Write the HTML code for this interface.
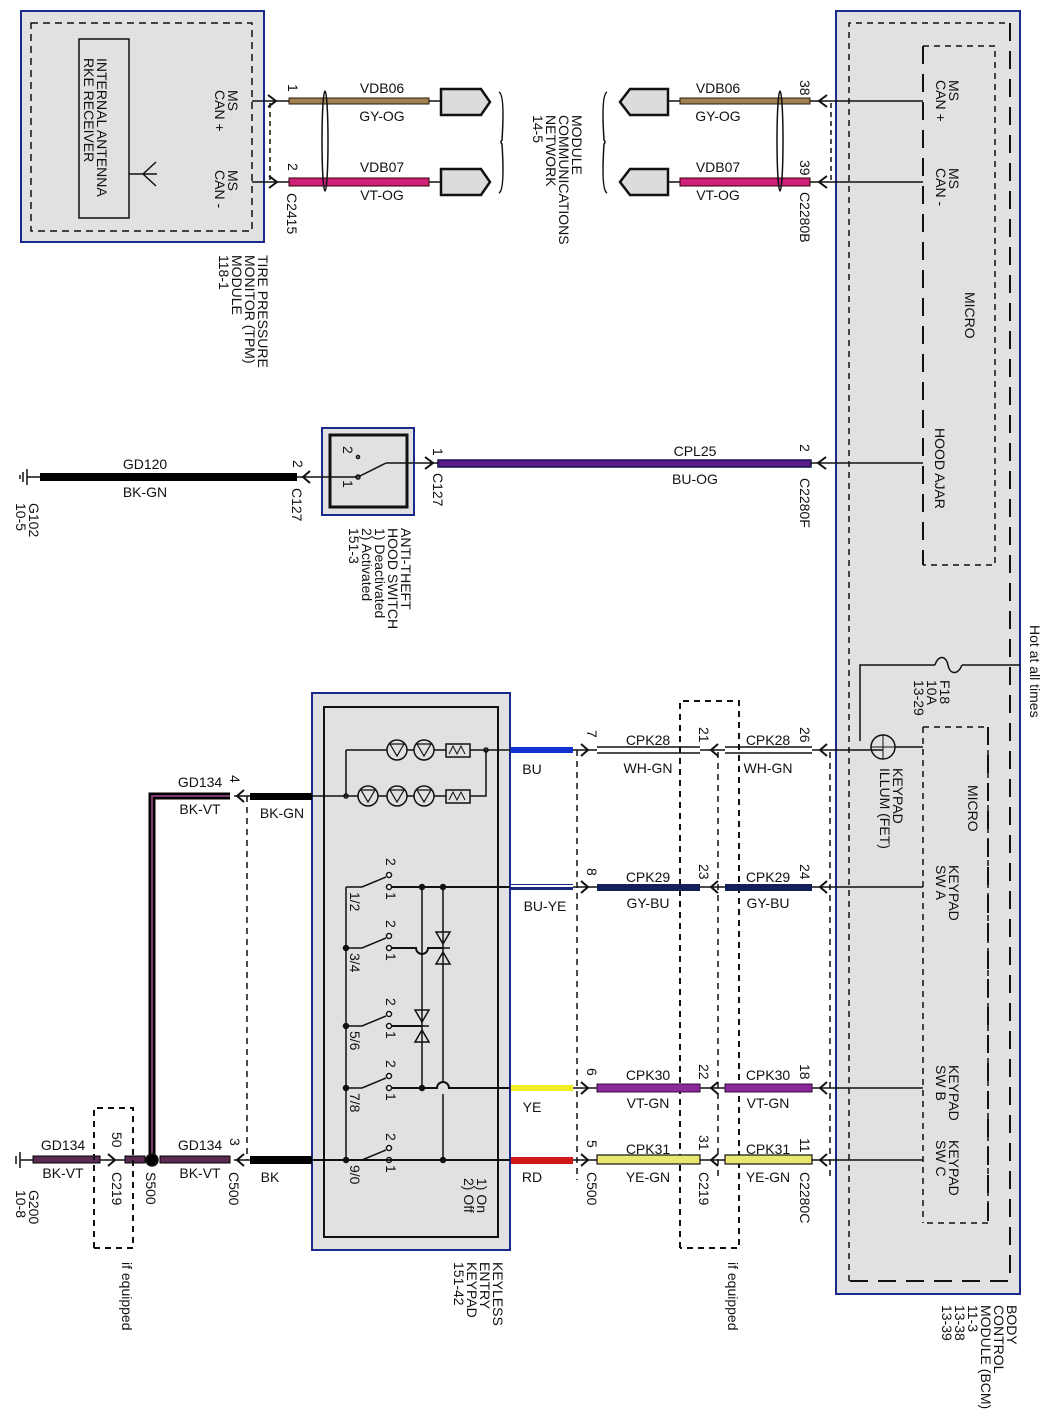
<!DOCTYPE html>
<html><head><meta charset="utf-8"><style>
html,body{margin:0;padding:0;background:#fff}
svg{display:block}
text{font-family:"Liberation Sans",Arial,sans-serif;font-size:14px;fill:#111}
.c{text-anchor:middle}
</style></head><body>
<svg width="1052" height="1422" viewBox="0 0 1052 1422" xmlns="http://www.w3.org/2000/svg">
<g fill="none" stroke="#111" stroke-width="1.5">
<rect x="21" y="11" width="243" height="231" fill="#e1e1e3" stroke="#1b2a8c" stroke-width="2"/>
<rect x="31" y="23" width="221" height="208" stroke-dasharray="7,5"/>
<rect x="79" y="39" width="50" height="179"/>
<path d="M129 174 H143 M143 174 L156 162 M143 174 L156 186 M143 174 H157"/>
<path d="M252 101 H289 M252 182 H289"/>
<path d="M270 103 V182" stroke-dasharray="5,4"/>
<path d="M268 95 L276 101 L268 107 M269 176 L277 182 L269 188" stroke-width="2"/>
<rect x="289" y="98" width="140" height="6" fill="#a0804f" stroke="#2a1a0a" stroke-width="1"/>
<rect x="289" y="178" width="140" height="8" fill="#d0207a" stroke="#300" stroke-width="1"/>
<path d="M429 101 H441 M429 182 H441"/>
<ellipse cx="325" cy="141" rx="3" ry="50"/>
<path d="M441 89 H481 L490 102 L481 115 H441 Z M441 169 H481 L490 182 L481 195 H441 Z" fill="#dcdcdc" stroke-width="2.5"/>
<path d="M499 92 Q505 95 502 140 Q500 142 502 144 Q505 190 499 193"/>
<path d="M620 102 L630 89 H668 V115 H630 Z M620 182 L630 169 H668 V195 H630 Z" fill="#dcdcdc" stroke-width="2.5"/>
<path d="M607 92 Q601 95 604 140 Q606 142 604 144 Q601 190 607 193"/>
<path d="M668 101 H680 M668 182 H680"/>
<rect x="680" y="98" width="130" height="6" fill="#a0804f" stroke="#2a1a0a" stroke-width="1"/>
<rect x="680" y="178" width="130" height="8" fill="#d0207a" stroke="#300" stroke-width="1"/>
<ellipse cx="780" cy="141" rx="3" ry="50"/>
<rect x="836" y="11" width="184" height="1283" fill="#e1e1e3" stroke="#1b2a8c" stroke-width="2"/>
<path d="M849 1281 V23 H1010" stroke-dasharray="6,5"/>
<path d="M1010 23 V1281 H849" stroke-dasharray="18,10" stroke-width="2"/>
<path d="M923 46 H995 V565 H923" stroke-dasharray="6,5"/>
<path d="M923 46 V565" stroke-dasharray="18,10" stroke-width="2"/>
<path d="M810 101 H923 M810 182 H923"/>
<path d="M831 103 V182" stroke-dasharray="5,4"/>
<path d="M827 95 L819 101 L827 107 M827 176 L819 182 L827 188" stroke-width="2"/>
<rect x="438" y="460" width="373" height="7" fill="#5a1a8a" stroke="#141450" stroke-width="1.5"/>
<path d="M811 463 H923 M412 463 H438"/>
<path d="M826 457 L818 463 L826 469 M425 457 L433 463 L425 469" stroke-width="2"/>
<rect x="322" y="428" width="92" height="87" fill="#e1e1e3" stroke="#1b2a8c" stroke-width="2"/>
<rect x="330" y="435" width="77" height="72" stroke-width="3"/>
<path d="M386 463 H414 M358 477 L386 463 M297 477 H358" />
<circle cx="358" cy="477" r="2"/><circle cx="358" cy="457" r="1.5"/>
<path d="M310 471 L303 477 L310 483" stroke-width="2"/>
<rect x="40" y="473" width="257" height="8" fill="#000" stroke="none"/>
<path d="M27 477 H40 M27 469 V485 M23 472 V482 M20 475 V479"/>
<path d="M1020 665 H962 M935 665 H860 V741"/>
<path d="M935 665 C938 655 946 655 948 665 C950 675 958 675 962 665"/>
<circle cx="883" cy="747" r="12"/>
<path d="M871 747 H895 M883 735 V759" stroke-width="1"/>
<path d="M923 747 H895"/>
<path d="M923 727 H988 V1223 H923" stroke-dasharray="6,5"/>
<path d="M923 727 V1223" stroke-dasharray="6,5"/>
<path d="M988 727 V1223" stroke-dasharray="18,10" stroke-width="2"/>
<rect x="312" y="693" width="198" height="557" fill="#e1e1e3" stroke="#1b2a8c" stroke-width="2"/>
<rect x="324" y="707" width="174" height="530" stroke-width="2"/>
<path d="M346 750 H446 M470 750 H510 M486 750 V796 H470 M446 796 H346 M346 750 V796 M312 796 H346"/>
<rect x="446" y="744" width="24" height="13"/><rect x="446" y="790" width="24" height="13"/>
<path d="M449 754 L453 746 L457 754 L461 746 L465 754 M449 800 L453 792 L457 800 L461 792 L465 800" stroke-width="1"/>
<circle cx="397" cy="750" r="10" fill="#e1e1e3"/><circle cx="424" cy="750" r="10" fill="#e1e1e3"/>
<circle cx="368" cy="796" r="10" fill="#e1e1e3"/><circle cx="397" cy="796" r="10" fill="#e1e1e3"/><circle cx="424" cy="796" r="10" fill="#e1e1e3"/>
<path d="M390 744 H404 L397 756 Z M417 744 H431 L424 756 Z M361 790 H375 L368 802 Z M390 790 H404 L397 802 Z M417 790 H431 L424 802 Z" stroke-width="1.2"/>
<circle cx="486" cy="750" r="2"/><circle cx="346" cy="796" r="2"/>
<path d="M346 887 V1160"/>
<path d="M346 887 H362 L386 877 M346 948 H362 L386 938 M346 1026 H362 L386 1016 M346 1088 H362 L386 1078 M346 1160 H362 L386 1150"/>
<g fill="#fff"><circle cx="389" cy="875" r="2.5"/><circle cx="389" cy="887" r="2.5"/><circle cx="389" cy="936" r="2.5"/><circle cx="389" cy="948" r="2.5"/><circle cx="389" cy="1014" r="2.5"/><circle cx="389" cy="1026" r="2.5"/><circle cx="389" cy="1076" r="2.5"/><circle cx="389" cy="1088" r="2.5"/><circle cx="389" cy="1148" r="2.5"/><circle cx="389" cy="1160" r="2.5"/></g>
<path d="M392 887 H510 M392 948 H416 A6 6 0 0 0 428 948 H443 M392 1026 H422 M392 1088 H437 A6 6 0 0 1 449 1088 H510" stroke-width="2"/>
<path d="M422 887 V1088 M443 887 V1082 M443 1094 V1160"/>
<path d="M312 1160 H510" stroke-width="2"/>
<path d="M436 932 H450 L443 944 Z M436 964 H450 L443 952 Z M436 948 H450 M415 1010 H429 L422 1022 Z M415 1042 H429 L422 1030 Z M415 1026 H429" stroke-width="1.5"/>
<g fill="#111"><circle cx="346" cy="948" r="2.5"/><circle cx="346" cy="1026" r="2.5"/><circle cx="346" cy="1088" r="2.5"/><circle cx="346" cy="1160" r="2.5"/><circle cx="422" cy="887" r="2.5"/><circle cx="443" cy="887" r="2.5"/><circle cx="422" cy="1088" r="2.5"/><circle cx="443" cy="1160" r="2.5"/></g>
<rect x="511" y="747" width="62" height="6" fill="#1030d0" stroke="none"/>
<rect x="511" y="884" width="62" height="6" fill="#1a2a80" stroke="none"/>
<rect x="511" y="885" width="62" height="2" fill="#fff" stroke="none"/>
<rect x="511" y="1085" width="62" height="6" fill="#f0f020" stroke="none"/>
<rect x="511" y="1157" width="62" height="7" fill="#d01818" stroke="none"/>
<path d="M573 750 H597 M573 887 H597 M573 1088 H597 M573 1160 H597 M700 750 H725 M700 887 H725 M700 1088 H725 M700 1160 H725 M812 750 H883 M812 887 H923 M812 1088 H923 M812 1160 H923"/>
<path d="M577 750 V1180" stroke-dasharray="6,5"/>
<path d="M718 752 V1180" stroke-dasharray="6,5"/>
<path d="M830 752 V1180" stroke-dasharray="6,5"/>
<path d="M680 1248 V701 H739 V1248 H680" stroke-dasharray="6,5" stroke-width="2"/>
<g stroke-width="2">
<path d="M581 744 L588 750 L581 756 M581 881 L588 887 L581 893 M581 1082 L588 1088 L581 1094 M581 1154 L588 1160 L581 1166"/>
<path d="M718 744 L711 750 L718 756 M718 881 L711 887 L718 893 M718 1082 L711 1088 L718 1094 M718 1154 L711 1160 L718 1166"/>
<path d="M827 744 L820 750 L827 756 M827 881 L820 887 L827 893 M827 1082 L820 1088 L827 1094 M827 1154 L820 1160 L827 1166"/>
</g>
<path d="M597 747 H700 M597 753 H700 M725 747 H812 M725 753 H812" stroke-width="1.5"/>
<rect x="597" y="884" width="103" height="7" fill="#14205a" stroke="none"/>
<rect x="725" y="884" width="87" height="7" fill="#14205a" stroke="none"/>
<rect x="597" y="1084" width="103" height="8" fill="#8a2a9a" stroke="#3a0a40" stroke-width="1"/>
<rect x="725" y="1084" width="87" height="8" fill="#8a2a9a" stroke="#3a0a40" stroke-width="1"/>
<rect x="597" y="1155" width="103" height="9" fill="#e8e870" stroke="#111" stroke-width="1.2"/>
<rect x="725" y="1155" width="87" height="9" fill="#e8e870" stroke="#111" stroke-width="1.2"/>
<rect x="250" y="793" width="62" height="7" fill="#000" stroke="none"/>
<rect x="250" y="1156" width="62" height="8" fill="#000" stroke="none"/>
<path d="M234 796 H250 M234 1160 H250"/>
<path d="M247 796 V1160" stroke-dasharray="6,5"/>
<path d="M244 790 L237 796 L244 802 M244 1154 L237 1160 L244 1166" stroke-width="2"/>
<path d="M230 796 H152 V1156" stroke="#000" stroke-width="7"/>
<path d="M230 796 H152 V1156" stroke="#7a3a70" stroke-width="2"/>
<rect x="160" y="1156" width="70" height="7" fill="#5a2a50" stroke="#000" stroke-width="1"/>
<rect x="125" y="1156" width="20" height="7" fill="#5a2a50" stroke="#000" stroke-width="1"/>
<rect x="33" y="1156" width="67" height="7" fill="#5a2a50" stroke="#000" stroke-width="1"/>
<path d="M100 1160 H125"/>
<path d="M108 1154 L115 1160 L108 1166" stroke-width="2"/>
<circle cx="152" cy="1160" r="6" fill="#000"/>
<path d="M94 1248 V1108 H133 V1248 H94" stroke-dasharray="6,5" stroke-width="2"/>
<path d="M20 1160 H33 M20 1152 V1168 M16 1156 V1164"/>
</g>
<g class="c">
<text x="382" y="93" class="c">VDB06</text><text x="382" y="121" class="c">GY-OG</text>
<text x="382" y="172" class="c">VDB07</text><text x="382" y="200" class="c">VT-OG</text>
<text x="718" y="93" class="c">VDB06</text><text x="718" y="121" class="c">GY-OG</text>
<text x="718" y="172" class="c">VDB07</text><text x="718" y="200" class="c">VT-OG</text>
<text x="695" y="456" class="c">CPL25</text><text x="695" y="484" class="c">BU-OG</text>
<text x="145" y="469" class="c">GD120</text><text x="145" y="497" class="c">BK-GN</text>
<text x="648" y="745" class="c">CPK28</text><text x="648" y="773" class="c">WH-GN</text>
<text x="768" y="745" class="c">CPK28</text><text x="768" y="773" class="c">WH-GN</text>
<text x="648" y="882" class="c">CPK29</text><text x="648" y="908" class="c">GY-BU</text>
<text x="768" y="882" class="c">CPK29</text><text x="768" y="908" class="c">GY-BU</text>
<text x="648" y="1080" class="c">CPK30</text><text x="648" y="1108" class="c">VT-GN</text>
<text x="768" y="1080" class="c">CPK30</text><text x="768" y="1108" class="c">VT-GN</text>
<text x="648" y="1154" class="c">CPK31</text><text x="648" y="1182" class="c">YE-GN</text>
<text x="768" y="1154" class="c">CPK31</text><text x="768" y="1182" class="c">YE-GN</text>
<text x="532" y="774" class="c">BU</text><text x="545" y="911" class="c">BU-YE</text>
<text x="532" y="1112" class="c">YE</text><text x="532" y="1182" class="c">RD</text>
<text x="282" y="818" class="c">BK-GN</text><text x="270" y="1182" class="c">BK</text>
<text x="200" y="787" class="c">GD134</text><text x="200" y="814" class="c">BK-VT</text>
<text x="200" y="1150" class="c">GD134</text><text x="200" y="1178" class="c">BK-VT</text>
<text x="63" y="1150" class="c">GD134</text><text x="63" y="1178" class="c">BK-VT</text>
</g>
<g>
<text transform="translate(97 58) rotate(90)">INTERNAL ANTENNA</text>
<text transform="translate(84 58) rotate(90)">RKE RECEIVER</text>
<text transform="translate(228 90) rotate(90)">MS</text><text transform="translate(215 90) rotate(90)">CAN +</text>
<text transform="translate(228 170) rotate(90)">MS</text><text transform="translate(215 170) rotate(90)">CAN -</text>
<text transform="translate(288 84) rotate(90)">1</text><text transform="translate(288 163) rotate(90)">2</text>
<text transform="translate(287 193) rotate(90)">C2415</text>
<text transform="translate(572 115) rotate(90)">MODULE</text>
<text transform="translate(559 115) rotate(90)">COMMUNICATIONS</text>
<text transform="translate(546 115) rotate(90)">NETWORK</text>
<text transform="translate(533 115) rotate(90)">14-5</text>
<text transform="translate(258 255) rotate(90)">TIRE PRESSURE</text>
<text transform="translate(245 255) rotate(90)">MONITOR (TPM)</text>
<text transform="translate(232 255) rotate(90)">MODULE</text>
<text transform="translate(219 255) rotate(90)">118-1</text>
<text transform="translate(800 80) rotate(90)">38</text><text transform="translate(800 160) rotate(90)">39</text>
<text transform="translate(800 192) rotate(90)">C2280B</text>
<text transform="translate(949 80) rotate(90)">MS</text><text transform="translate(936 80) rotate(90)">CAN +</text>
<text transform="translate(949 168) rotate(90)">MS</text><text transform="translate(936 168) rotate(90)">CAN -</text>
<text transform="translate(965 292) rotate(90)">MICRO</text>
<text transform="translate(935 428) rotate(90)">HOOD AJAR</text>
<text transform="translate(800 444) rotate(90)">2</text>
<text transform="translate(800 478) rotate(90)">C2280F</text>
<text transform="translate(433 448) rotate(90)">1</text>
<text transform="translate(433 473) rotate(90)">C127</text>
<text transform="translate(293 460) rotate(90)">2</text>
<text transform="translate(292 488) rotate(90)">C127</text>
<text transform="translate(343 446) rotate(90)">2</text><text transform="translate(343 480) rotate(90)">1</text>
<text transform="translate(401 528) rotate(90)">ANTI-THEFT</text>
<text transform="translate(388 528) rotate(90)">HOOD SWITCH</text>
<text transform="translate(375 528) rotate(90)">1) Deactivated</text>
<text transform="translate(362 528) rotate(90)">2) Activated</text>
<text transform="translate(349 528) rotate(90)">151-3</text>
<text transform="translate(29 503) rotate(90)">G102</text><text transform="translate(16 503) rotate(90)">10-5</text>
<text transform="translate(1030 625) rotate(90)">Hot at all times</text>
<text transform="translate(940 680) rotate(90)">F18</text>
<text transform="translate(927 680) rotate(90)">10A</text>
<text transform="translate(914 680) rotate(90)">13-29</text>
<text transform="translate(893 768) rotate(90)">KEYPAD</text>
<text transform="translate(880 768) rotate(90)">ILLUM (FET)</text>
<text transform="translate(968 785) rotate(90)">MICRO</text>
<text transform="translate(949 865) rotate(90)">KEYPAD</text><text transform="translate(936 865) rotate(90)">SW A</text>
<text transform="translate(949 1065) rotate(90)">KEYPAD</text><text transform="translate(936 1065) rotate(90)">SW B</text>
<text transform="translate(949 1140) rotate(90)">KEYPAD</text><text transform="translate(936 1140) rotate(90)">SW C</text>
<text transform="translate(1007 1305) rotate(90)">BODY</text>
<text transform="translate(994 1305) rotate(90)">CONTROL</text>
<text transform="translate(981 1305) rotate(90)">MODULE (BCM)</text>
<text transform="translate(968 1305) rotate(90)">11-3</text>
<text transform="translate(955 1305) rotate(90)">13-38</text>
<text transform="translate(942 1305) rotate(90)">13-39</text>
<text transform="translate(587 730) rotate(90)">7</text><text transform="translate(587 868) rotate(90)">8</text>
<text transform="translate(587 1068) rotate(90)">6</text><text transform="translate(587 1140) rotate(90)">5</text>
<text transform="translate(699 727) rotate(90)">21</text><text transform="translate(699 864) rotate(90)">23</text>
<text transform="translate(699 1064) rotate(90)">22</text><text transform="translate(699 1135) rotate(90)">31</text>
<text transform="translate(800 727) rotate(90)">26</text><text transform="translate(800 864) rotate(90)">24</text>
<text transform="translate(800 1064) rotate(90)">18</text><text transform="translate(800 1138) rotate(90)">11</text>
<text transform="translate(587 1172) rotate(90)">C500</text>
<text transform="translate(699 1172) rotate(90)">C219</text>
<text transform="translate(800 1172) rotate(90)">C2280C</text>
<text transform="translate(728 1262) rotate(90)">if equipped</text>
<text transform="translate(122 1262) rotate(90)">if equipped</text>
<text transform="translate(493 1262) rotate(90)">KEYLESS</text>
<text transform="translate(480 1262) rotate(90)">ENTRY</text>
<text transform="translate(467 1262) rotate(90)">KEYPAD</text>
<text transform="translate(454 1262) rotate(90)">151-42</text>
<text transform="translate(477 1178) rotate(90)">1) On</text>
<text transform="translate(464 1178) rotate(90)">2) Off</text>
<g style="font-size:12px">
<text transform="translate(386 858) rotate(90)">2</text><text transform="translate(386 892) rotate(90)">1</text>
<text transform="translate(386 920) rotate(90)">2</text><text transform="translate(386 953) rotate(90)">1</text>
<text transform="translate(386 998) rotate(90)">2</text><text transform="translate(386 1031) rotate(90)">1</text>
<text transform="translate(386 1060) rotate(90)">2</text><text transform="translate(386 1093) rotate(90)">1</text>
<text transform="translate(386 1133) rotate(90)">2</text><text transform="translate(386 1165) rotate(90)">1</text>
<text transform="translate(350 892) rotate(90)">1/2</text>
<text transform="translate(350 953) rotate(90)">3/4</text>
<text transform="translate(350 1031) rotate(90)">5/6</text>
<text transform="translate(350 1093) rotate(90)">7/8</text>
<text transform="translate(350 1165) rotate(90)">9/0</text>
</g>
<text transform="translate(230 775) rotate(90)">4</text>
<text transform="translate(230 1138) rotate(90)">3</text>
<text transform="translate(229 1172) rotate(90)">C500</text>
<text transform="translate(146 1172) rotate(90)">S500</text>
<text transform="translate(112 1132) rotate(90)">50</text>
<text transform="translate(112 1172) rotate(90)">C219</text>
<text transform="translate(29 1190) rotate(90)">G200</text><text transform="translate(16 1190) rotate(90)">10-8</text>
</g>
</svg>
</body></html>
